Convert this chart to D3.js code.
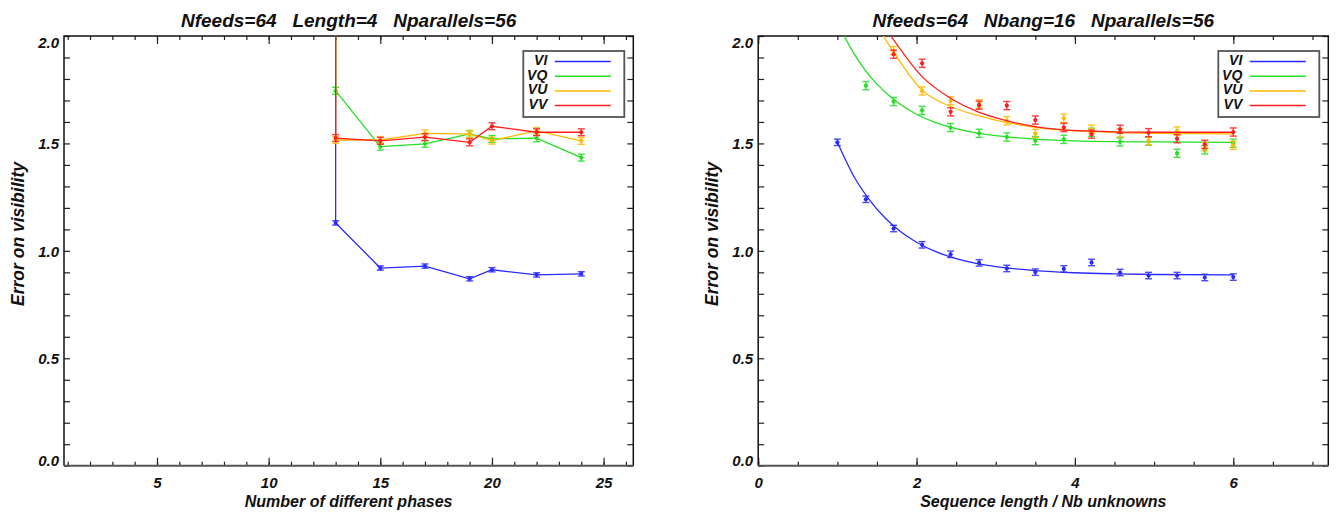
<!DOCTYPE html>
<html>
<head>
<script src="https://cdn.jsdelivr.net/npm/d3@7"></script>
<style>
  body { margin: 0; background: #fff; }
  text { font-family: "Liberation Sans", Arial, sans-serif; font-weight: bold; font-style: italic; fill: #111; }
</style>
</head>
<body>
<svg width="1344" height="515"></svg>
<script>
// ---- left panel: error vs number of different phases ----
// first point of every curve is off the top of the plot (clipped)
const phases = [13, 13, 15, 17, 19, 20, 22, 24]
const phVI = [6.0, 1.130, 0.920, 0.929, 0.870, 0.912, 0.888, 0.893]
const phVQ = [6.0, 1.745, 1.485, 1.498, 1.544, 1.521, 1.524, 1.434]
const phVU = [6.0, 1.516, 1.516, 1.547, 1.543, 1.513, 1.558, 1.512]
const phVV = [6.0, 1.525, 1.512, 1.529, 1.505, 1.580, 1.552, 1.552]
const phErr = [0.010, 0.016, 0.016, 0.016]

// ---- right panel: error vs sequence length / nb unknowns ----
const seqLen = [1.00, 1.36, 1.71, 2.07, 2.43, 2.79, 3.14, 3.50, 3.86, 4.21, 4.57, 4.93, 5.29, 5.64, 6.00]
const seqVI = [1.505, 1.240, 1.104, 1.028, 0.984, 0.944, 0.918, 0.901, 0.916, 0.946, 0.899, 0.885, 0.885, 0.876, 0.878]
const seqVQ = [null, 1.769, 1.695, 1.654, 1.574, 1.547, 1.530, 1.513, 1.519, 1.552, 1.507, 1.510, 1.454, 1.470, 1.501]
const seqVU = [null, null, 1.932, 1.744, 1.698, 1.684, 1.606, 1.546, 1.617, 1.566, 1.550, 1.512, 1.558, 1.485, 1.491]
const seqVV = [null, null, 1.915, 1.873, 1.647, 1.678, 1.676, 1.609, 1.574, 1.543, 1.566, 1.550, 1.522, 1.496, 1.553]
const seqErr = [0.015, 0.019, 0.019, 0.019]

// fitted curves
const fitVIx = [1.0, 1.2, 1.4, 1.6, 1.8, 2.0, 2.25, 2.5, 2.75, 3.0, 3.5, 4.0, 4.5, 5.0, 6.0]
const fitVI = [1.505, 1.352, 1.240, 1.154, 1.089, 1.040, 0.995, 0.964, 0.942, 0.927, 0.908, 0.898, 0.893, 0.890, 0.888]
const fitVQx = [1.085, 1.2, 1.36, 1.5, 1.75, 2.0, 2.25, 2.5, 2.75, 3.0, 3.5, 4.0, 5.0, 6.0]
const fitVQ = [2.0, 1.924, 1.837, 1.776, 1.694, 1.636, 1.596, 1.569, 1.549, 1.536, 1.520, 1.512, 1.507, 1.505]
const fitVUx = [1.58, 1.71, 2.07, 2.43, 2.79, 3.14, 3.5, 3.86, 4.21, 4.57, 5.0, 6.0]
const fitVU = [2.0, 1.925, 1.748, 1.672, 1.628, 1.597, 1.575, 1.562, 1.555, 1.550, 1.547, 1.544]
const fitVVx = [1.676, 2.07, 2.43, 2.79, 3.14, 3.5, 3.86, 4.21, 4.57, 5.0, 6.0]
const fitVV = [2.0, 1.811, 1.710, 1.645, 1.606, 1.578, 1.563, 1.557, 1.553, 1.552, 1.552]

const names = ["VI", "VQ", "VU", "VV"]
const colors = ["#2a2aff", "#22e022", "#ffb800", "#ff1c1c"]

// ticks
const phMinor = [1,2,3,4,5,6,7,8,9,10,11,12,13,14,15,16,17,18,19,20,21,22,23,24,25,26]
const phMajor = [5, 10, 15, 20, 25]
const seqMinor = [0,0.5,1,1.5,2,2.5,3,3.5,4,4.5,5,5.5,6,6.5,7]
const seqMajor = [0, 2, 4, 6]
const yMinor = [0,0.1,0.2,0.3,0.4,0.5,0.6,0.7,0.8,0.9,1.0,1.1,1.2,1.3,1.4,1.5,1.6,1.7,1.8,1.9,2.0]
const yMajor = [0, 0.5, 1.0, 1.5, 2.0]

const svg = d3.select("svg")
const top_y = 36, bot_y = 465.7
const y = d3.scaleLinear().domain([0, 2]).range([bot_y, top_y])

function panel(p){
    const x = d3.scaleLinear().domain(p.xDomain).range(p.xRange)
    const x0 = p.xRange[0], x1 = p.xRange[1]
    const cx = (x0 + x1) / 2

    svg.append("clipPath").attr("id", "clip" + p.id)
        .append("rect").attr("x", x0).attr("y", top_y).attr("width", x1 - x0).attr("height", bot_y - top_y)

    // axes (ticks pointing inward)
    const ax = (axis, tx, ty, vals, size, labels) => {
        const a = axis.tickValues(vals).tickSize(size).tickSizeOuter(0)
        if(!labels) a.tickFormat("")
        const g = svg.append("g").attr("transform", `translate(${tx},${ty})`).call(a)
        g.select(".domain").remove()
        g.selectAll(".tick line").attr("stroke", "#222").attr("stroke-width", 1.2)
        return g
    }
    ax(d3.axisBottom(x), 0, bot_y, p.minor, -4, false)
    ax(d3.axisTop(x), 0, top_y, p.minor, -4, false)
    ax(d3.axisTop(x), 0, top_y, p.major, -8, false)
    const gb = ax(d3.axisBottom(x).tickPadding(12), 0, bot_y, p.major, -8, true)
    gb.selectAll("text").style("font-size", "15px").attr("fill", "#111")

    ax(d3.axisRight(y), x1, 0, yMinor, -6, false)
    const gl = ax(d3.axisLeft(y).tickPadding(5).tickFormat(d3.format(".1f")), x0, 0, yMinor, -6, true)
    gl.selectAll(".tick").filter(d => yMajor.indexOf(d) < 0).select("text").remove()
    gl.selectAll("text").style("font-size", "15px").attr("fill", "#111")
        .attr("dy", d => d === 2 ? "0.74em" : d === 0 ? "0em" : "0.35em")

    // frame
    svg.append("path").attr("d", `M${x0},${bot_y}V${top_y}H${x1}V${bot_y}`)
        .attr("fill", "none").attr("stroke", "#111").attr("stroke-width", 1.5)
    svg.append("line").attr("x1", x0).attr("x2", x1).attr("y1", bot_y).attr("y2", bot_y)
        .attr("stroke", "#555").attr("stroke-width", 2)

    // titles
    svg.append("text").attr("x", cx).attr("y", 27).attr("text-anchor", "middle")
        .style("font-size", "19px").style("white-space", "pre").text(p.title)
    svg.append("text").attr("x", cx).attr("y", 507).attr("text-anchor", "middle")
        .style("font-size", "16px").text(p.xlabel)
    svg.append("text").attr("transform", `translate(${x0 - 40},234) rotate(-90)`)
        .attr("text-anchor", "middle").style("font-size", "17.5px").text("Error on visibility")

    // data
    const plot = svg.append("g").attr("clip-path", `url(#clip${p.id})`)
    const line = d3.line().x(d => x(d.x)).y(d => y(d.v))
    p.series.forEach((s, k) => {
        const pts = p.xs.map((xv, i) => ({x: xv, v: s[i]})).filter(d => d.v !== null)
        const col = colors[k], e = p.err[k]
        if(p.fits){
            const f = p.fits[k][0].map((xv, i) => ({x: xv, v: p.fits[k][1][i]}))
            plot.append("path").datum(f).attr("d", line.curve(d3.curveMonotoneX))
                .attr("fill", "none").attr("stroke", col).attr("stroke-width", 1.3)
        } else {
            plot.append("path").datum(pts).attr("d", line.curve(d3.curveLinear))
                .attr("fill", "none").attr("stroke", col).attr("stroke-width", 1.3)
        }
        const eb = plot.append("g").attr("stroke", col).attr("stroke-width", 1.4).attr("opacity", 0.85)
        pts.forEach(d => {
            const px = x(d.x), ya = y(d.v - e), yb = y(d.v + e)
            eb.append("line").attr("x1", px).attr("x2", px).attr("y1", ya).attr("y2", yb)
            eb.append("line").attr("x1", px - 3.5).attr("x2", px + 3.5).attr("y1", ya).attr("y2", ya)
            eb.append("line").attr("x1", px - 3.5).attr("x2", px + 3.5).attr("y1", yb).attr("y2", yb)
        })
        plot.append("g").selectAll("circle").data(pts).join("circle")
            .attr("cx", d => x(d.x)).attr("cy", d => y(d.v)).attr("r", 2.1).attr("fill", col)
    })

    // legend
    const lx = x1 - 110, ly = 51
    const lg = svg.append("g")
    lg.append("rect").attr("x", lx).attr("y", ly).attr("width", 101).attr("height", 66)
        .attr("fill", "#fff").attr("stroke", "#555").attr("stroke-width", 1.8)
    names.forEach((n, k) => {
        const by = ly + 14 + k * 14.7
        lg.append("text").attr("x", lx + 24).attr("y", by).attr("text-anchor", "end")
            .style("font-size", "14px").text(n)
        lg.append("line").attr("x1", lx + 31.5).attr("x2", lx + 87.5).attr("y1", by - 3.5).attr("y2", by - 3.5)
            .attr("stroke", colors[k]).attr("stroke-width", 1.5)
    })
}

panel({
    id: "L", xDomain: [0.835, 26.33], xRange: [64, 633.3],
    minor: phMinor, major: phMajor,
    title: "Nfeeds=64   Length=4   Nparallels=56",
    xlabel: "Number of different phases",
    xs: phases, series: [phVI, phVQ, phVU, phVV], err: phErr
})
panel({
    id: "R", xDomain: [0, 7.2], xRange: [758.2, 1328.3],
    minor: seqMinor, major: seqMajor,
    title: "Nfeeds=64   Nbang=16   Nparallels=56",
    xlabel: "Sequence length / Nb unknowns",
    xs: seqLen, series: [seqVI, seqVQ, seqVU, seqVV], err: seqErr,
    fits: [[fitVIx, fitVI], [fitVQx, fitVQ], [fitVUx, fitVU], [fitVVx, fitVV]]
})
</script>
</body>
</html>
